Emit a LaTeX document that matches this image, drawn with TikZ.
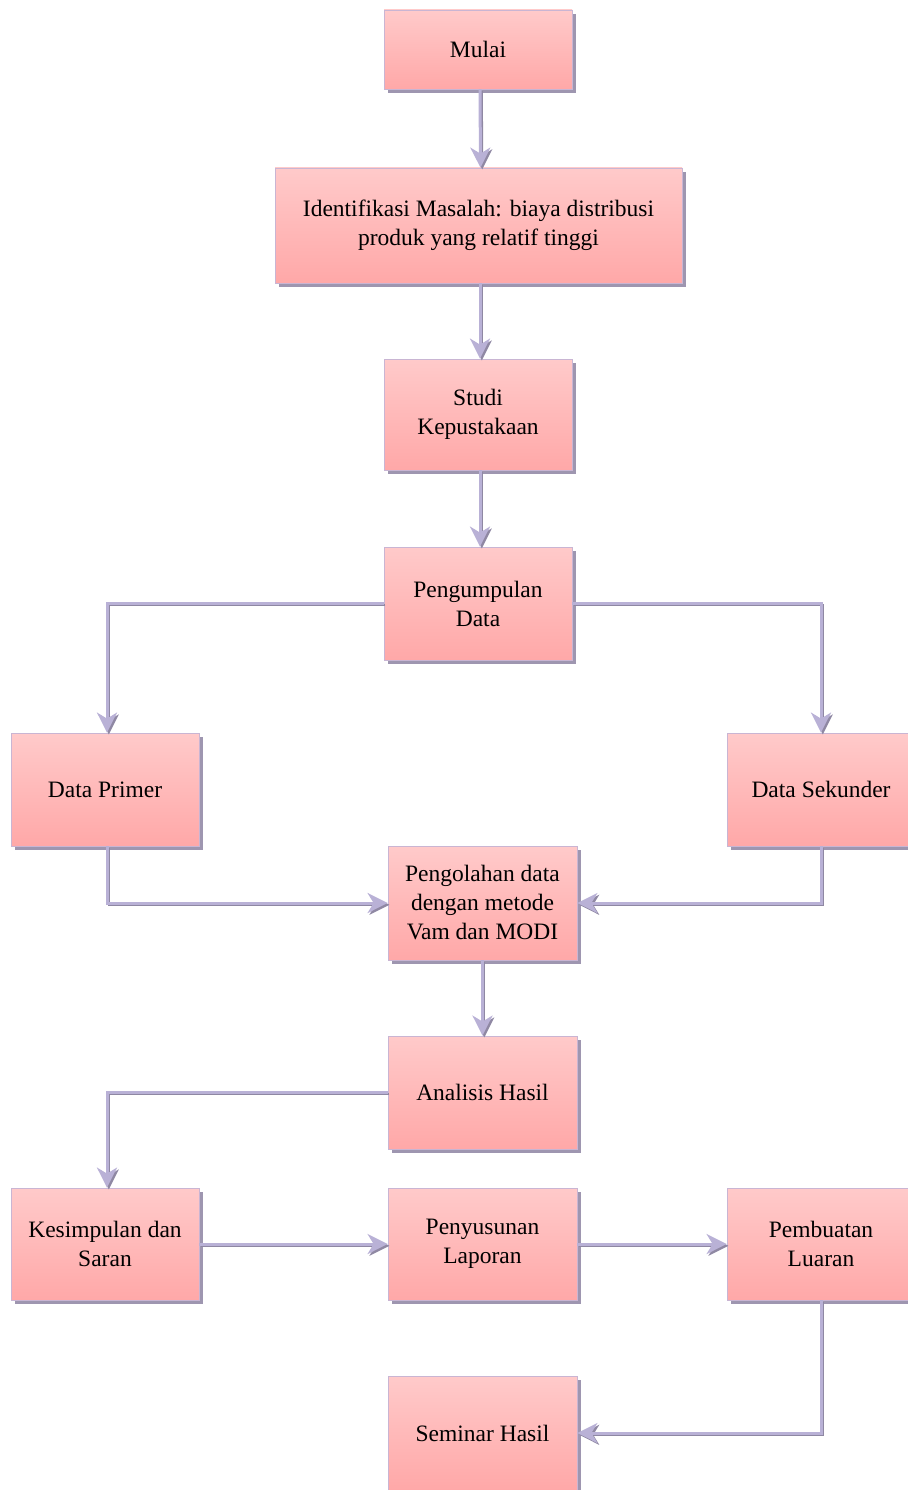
\documentclass[tikz,border=0pt]{standalone}
\usepackage{fontspec}
\setmainfont{Liberation Serif}
\usetikzlibrary{arrows.meta,shadows,positioning}
\definecolor{pinktop}{HTML}{FFCACA}
\definecolor{pinkbot}{HTML}{FFA8A8}
\definecolor{boxline}{HTML}{C9B5D3}
\definecolor{shadowc}{HTML}{9E96B0}
\definecolor{lav}{HTML}{B9B1D6}
\definecolor{lavdark}{HTML}{8F88A3}
\tikzset{
  box/.style={rectangle, draw=boxline, line width=0.8pt,
    top color=pinktop, bottom color=pinkbot,
    minimum width=188pt, minimum height=113pt, inner sep=0pt,
    align=center, font=\fontsize{23.5}{29}\selectfont,
    drop shadow={shadow xshift=4pt, shadow yshift=-4pt, fill=shadowc, opacity=1}},
  conn/.style={draw=lav, line width=3pt,
    -{Stealth[length=20pt,width=20pt,inset=6pt]},
    preaction={draw=lavdark, line width=2pt,
      transform canvas={shift={(1.8pt,-1.8pt)}}}},
}
\begin{document}
\begin{tikzpicture}[x=1pt,y=-1pt]
\useasboundingbox (0,0) rectangle (907,1490);
\node[box, minimum height=79pt] (mulai) at (478,49.5) {Mulai};
\node[box, minimum width=407pt, minimum height=115pt] (ident) at (478.5,225.5) {Identifikasi Masalah: biaya distribusi\\produk yang relatif tinggi};
\node[box, minimum height=111pt] (studi) at (478,414.5) {Studi\\Kepustakaan};
\node[box] (kumpul) at (478,603.5) {Pengumpulan\\Data};
\node[box] (primer) at (105,789.5) {Data Primer};
\node[box] (sekunder) at (821,789.5) {Data Sekunder};
\node[box, minimum width=189pt, minimum height=114pt] (olah) at (482.5,903) {Pengolahan data\\dengan metode\\Vam dan MODI};
\node[box, minimum width=189pt] (analisis) at (482.5,1092.5) {Analisis Hasil};
\node[box, minimum height=112pt] (simpul) at (105,1244) {Kesimpulan dan\\Saran};
\node[box, minimum width=189pt, minimum height=112pt] (susun) at (482.5,1244) {Penyusunan\\Laporan};
\node[box, minimum height=112pt] (luaran) at (821,1244) {Pembuatan\\Luaran};
\node[box, minimum width=189pt, minimum height=114pt] (seminar) at (482.5,1433) {Seminar Hasil};

\draw[conn] ([xshift=2pt]mulai.south) -- ([xshift=2pt]ident.north);
\draw[conn] ([xshift=1.5pt]ident.south) -- ([xshift=2pt]studi.north);
\draw[conn] ([xshift=2pt]studi.south) -- ([xshift=2pt]kumpul.north);
\draw[conn] (kumpul.west) -| ([xshift=2pt]primer.north);
\draw[conn] (kumpul.east) -| (sekunder.north);
\draw[conn] ([xshift=2pt]primer.south) |- (olah.west);
\draw[conn] (sekunder.south) |- (olah.east);
\draw[conn] (olah.south) -- (analisis.north);
\draw[conn] (analisis.west) -| ([xshift=2pt]simpul.north);
\draw[conn] (simpul.east) -- (susun.west);
\draw[conn] (susun.east) -- (luaran.west);
\draw[conn] (luaran.south) |- (seminar.east);
\end{tikzpicture}
\end{document}
